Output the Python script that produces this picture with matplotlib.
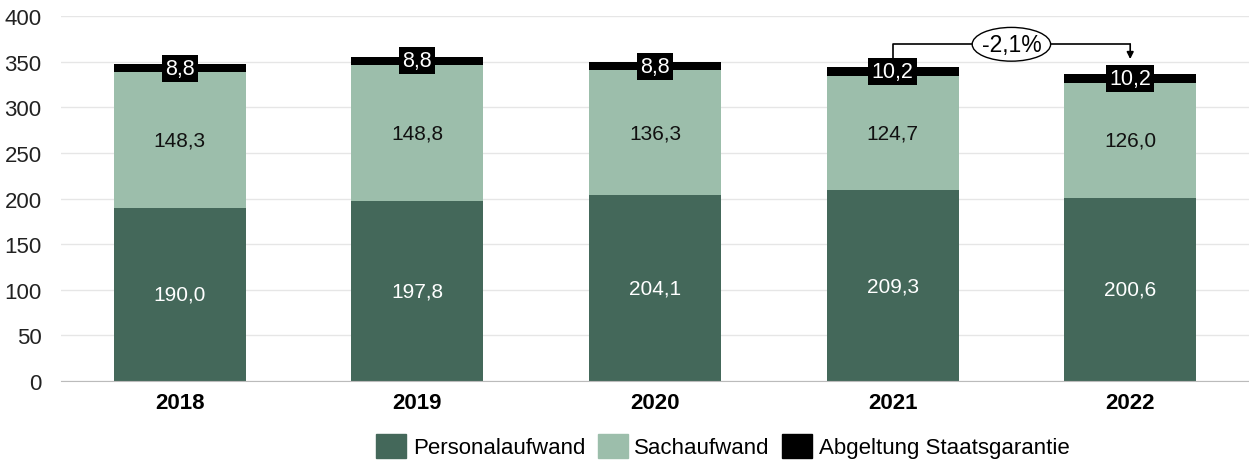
import matplotlib.pyplot as plt
from matplotlib.patches import Patch, Ellipse
import numpy as np

years = ["2018", "2019", "2020", "2021", "2022"]
personal = [190.0, 197.8, 204.1, 209.3, 200.6]
sach = [148.3, 148.8, 136.3, 124.7, 126.0]
staat = [8.8, 8.8, 8.8, 10.2, 10.2]
change_label = "-2,1%"

c_dark = "#44685a"
c_light = "#9cbeab"
c_black = "#000000"

plt.rcParams['font.family'] = ['Liberation Sans', 'DejaVu Sans']

fig = plt.figure(figsize=(12.49, 4.64), dpi=100)
ax = fig.add_axes([61/1249, (464-382)/464, (1249-61)/1249, 365/464])

x = np.arange(len(years))
w = 0.556
p = np.array(personal); s = np.array(sach); g = np.array(staat)
ax.bar(x, p, w, color=c_dark, zorder=2)
ax.bar(x, s, w, bottom=p, color=c_light, zorder=2)
ax.bar(x, g, w, bottom=p + s, color=c_black, zorder=2)

fmt = lambda v: f"{v:.1f}".replace(".", ",")
fs = 15
for i in range(len(years)):
    ax.text(x[i], p[i] / 2, fmt(p[i]), ha='center', va='center', color='white',
            fontsize=fs, zorder=3)
    ax.text(x[i], p[i] + s[i] / 2, fmt(s[i]), ha='center', va='center', color='#111111',
            fontsize=fs, zorder=3)
    ax.text(x[i], p[i] + s[i] + g[i] / 2, fmt(g[i]), ha='center', va='center', color='white',
            fontsize=15.5, zorder=4,
            bbox=dict(boxstyle='square,pad=0.15', fc='black', ec='none'))

# bracket annotation between 2021 and 2022
tot = p + s + g
y_br = 369
ax.plot([x[3], x[3], x[4], x[4]], [tot[3] + 10, y_br, y_br, y_br], color='black', lw=1.2, zorder=5)
ax.annotate("", xy=(x[4], tot[4] + 16), xytext=(x[4], y_br),
            arrowprops=dict(arrowstyle='-|>', color='black', lw=1.2, mutation_scale=10,
                            shrinkA=0, shrinkB=0), zorder=5)
xm = (x[3] + x[4]) / 2
ax.add_patch(Ellipse((xm, y_br), 0.33, 37, fc='white', ec='black', lw=1, zorder=6))
ax.text(xm, y_br, change_label, ha='center', va='center', fontsize=16.5, zorder=7)

ax.set_xlim(-0.5, len(years) - 0.5)
ax.set_ylim(0, 400)
ax.set_yticks(range(0, 401, 50))
ax.set_xticks(x)
ax.set_xticklabels(years, fontsize=16, fontweight='bold')
ax.tick_params(axis='y', labelsize=16, length=0, pad=14, labelcolor='#222222')
ax.tick_params(axis='x', length=0, pad=8)
ax.grid(axis='y', color='#e6e6e6', lw=1, zorder=0)
ax.set_axisbelow(True)
for sp in ['top', 'right', 'left']:
    ax.spines[sp].set_visible(False)
ax.spines['bottom'].set_color('#bbbbbb')

handles = [Patch(color=c_dark, label='Personalaufwand'),
           Patch(color=c_light, label='Sachaufwand'),
           Patch(color=c_black, label='Abgeltung Staatsgarantie')]
leg = fig.legend(handles=handles, loc='center', bbox_to_anchor=(723/1249, 1 - 447/464), ncol=3,
                 frameon=False, fontsize=16, handlelength=1.35, handleheight=1.3,
                 handletextpad=0.3, columnspacing=0.55)

fig.savefig('out.png', dpi=100)
